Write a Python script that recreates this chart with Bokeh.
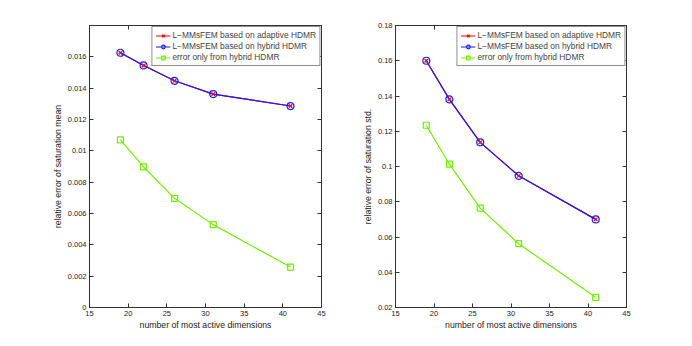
from bokeh.plotting import figure
from bokeh.layouts import row
from bokeh.models import (Legend, LegendItem, FixedTicker, CustomJSTickFormatter,
                          LinearAxis, Range1d)
from bokeh.embed import file_html
from bokeh.resources import INLINE

# ---------------- data ----------------
dims = [19, 22, 26, 31, 41]

mean_adaptive = [0.01626, 0.01545, 0.01447, 0.01362, 0.01286]
mean_hybrid = [0.01626, 0.01545, 0.01447, 0.01362, 0.01286]
mean_hdmr_only = [0.0107, 0.00897, 0.00697, 0.00529, 0.00258]

std_adaptive = [0.1600, 0.1381, 0.1137, 0.0947, 0.0700]
std_hybrid = [0.1600, 0.1381, 0.1137, 0.0947, 0.0700]
std_hdmr_only = [0.1234, 0.1013, 0.0764, 0.0562, 0.0258]

x_ticks = [15, 20, 25, 30, 35, 40, 45]
mean_ticks = [0, 0.002, 0.004, 0.006, 0.008, 0.01, 0.012, 0.014, 0.016]
std_ticks = [0.02, 0.04, 0.06, 0.08, 0.1, 0.12, 0.14, 0.16, 0.18]

labels = ["L\u2212MMsFEM based on adaptive HDMR",
          "L\u2212MMsFEM based on hybrid HDMR",
          "error only from hybrid HDMR"]

x_label = "number of most active dimensions"
mean_label = "relative error of saturation mean"
std_label = "relative error of saturation std."

RED = "#ff0000"
BLUE = "#1a1aff"
GREEN = "#70f000"
FONT = "Liberation Sans"
AXC = "#333333"

fmt_code = "return Number(tick.toPrecision(10)).toString();"


def make_panel(y_a, y_h, y_o, y_range, y_ticks, ylabel, bl, br, fw):
    p = figure(width=bl + fw + br, height=25 + 282 + 32,
               frame_width=fw, frame_height=282,
               min_border_left=bl, min_border_right=br,
               min_border_top=25, min_border_bottom=32,
               x_range=Range1d(15, 45), y_range=Range1d(*y_range),
               output_backend="svg", toolbar_location=None)
    p.grid.visible = False
    p.outline_line_color = AXC
    p.outline_line_width = 1

    for ax in (p.xaxis[0], p.yaxis[0]):
        ax.major_tick_in = 4
        ax.major_tick_out = 0
        ax.minor_tick_line_color = None
        ax.axis_line_color = AXC
        ax.major_tick_line_color = AXC
        ax.major_label_text_font = FONT
        ax.major_label_text_font_size = "7.5px"
        ax.major_label_text_color = "#222222"
        ax.axis_label_text_font = FONT
        ax.axis_label_text_font_size = "8.7px"
        ax.axis_label_text_font_style = "normal"
        ax.axis_label_text_color = "#222222"
        ax.formatter = CustomJSTickFormatter(code=fmt_code)
    p.xaxis[0].ticker = FixedTicker(ticks=x_ticks)
    p.yaxis[0].ticker = FixedTicker(ticks=y_ticks)
    p.xaxis[0].axis_label = x_label
    p.yaxis[0].axis_label = ylabel
    p.xaxis[0].major_label_standoff = 3
    p.xaxis[0].axis_label_standoff = 1
    p.yaxis[0].major_label_standoff = 3
    p.yaxis[0].axis_label_standoff = 2

    # mirrored ticks on top and right
    top = LinearAxis(ticker=FixedTicker(ticks=x_ticks),
                     formatter=CustomJSTickFormatter(code="return '';"),
                     major_tick_in=4, major_tick_out=0,
                     minor_tick_line_color=None, axis_line_color=AXC,
                     major_tick_line_color=AXC, major_label_standoff=0)
    right = LinearAxis(ticker=FixedTicker(ticks=y_ticks),
                       formatter=CustomJSTickFormatter(code="return '';"),
                       major_tick_in=4, major_tick_out=0,
                       minor_tick_line_color=None, axis_line_color=AXC,
                       major_tick_line_color=AXC, major_label_standoff=0)
    p.add_layout(top, "above")
    p.add_layout(right, "right")

    l1 = p.line(dims, y_a, line_color=RED, line_width=1.2)
    l2 = p.line(dims, y_h, line_color=BLUE, line_width=1.2)
    s2 = p.scatter(dims, y_h, marker="circle", size=7, fill_color=None,
                   line_color=BLUE, line_width=1.2)
    s1 = p.scatter(dims, y_a, marker="x", size=5, line_color=RED, line_width=1.2)
    l3 = p.line(dims, y_o, line_color=GREEN, line_width=1.2)
    s3 = p.scatter(dims, y_o, marker="square", size=6, fill_color=None,
                   line_color=GREEN, line_width=1.2)

    legend = Legend(items=[LegendItem(label=labels[0], renderers=[l1, s1]),
                           LegendItem(label=labels[1], renderers=[l2, s2]),
                           LegendItem(label=labels[2], renderers=[l3, s3])],
                    location="top_right", margin=1, padding=3, spacing=1,
                    glyph_width=15, glyph_height=9, label_height=9,
                    label_standoff=2,
                    label_text_font=FONT, label_text_font_size="8.4px",
                    border_line_color="#222222", border_line_width=1,
                    background_fill_color="white", background_fill_alpha=1)
    p.add_layout(legend)
    return p


p1 = make_panel(mean_adaptive, mean_hybrid, mean_hdmr_only, (0, 0.018),
                mean_ticks, mean_label, 89, 10, 232)
p2 = make_panel(std_adaptive, std_hybrid, std_hdmr_only, (0.02, 0.18),
                std_ticks, std_label, 64, 45, 231)

layout = row(p1, p2)
open("out.html", "w").write(file_html(layout, INLINE))
